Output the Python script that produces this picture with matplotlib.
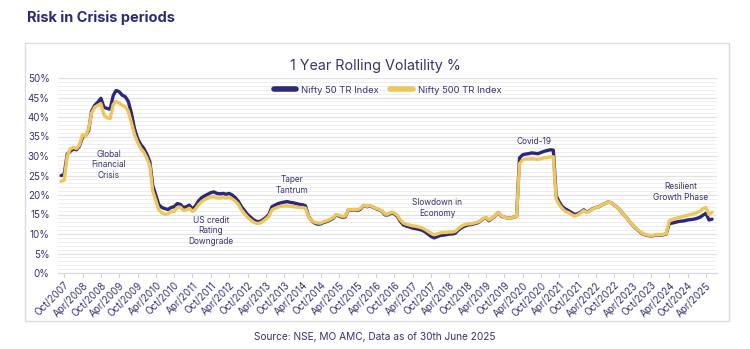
import numpy as np
import pandas as pd
import matplotlib
matplotlib.use('Agg')
import matplotlib.pyplot as plt
from matplotlib.patches import Rectangle
from matplotlib.ticker import MultipleLocator, FuncFormatter

plt.rcParams['font.family'] = ['Inter', 'DejaVu Sans']

# monthly points, Sep 2007 .. Jun 2025
months = pd.date_range('2007-09-01', '2025-06-01', freq='MS')

nifty50 = [
    25.0, 25.2, 30.5, 31.2,                                                   # 2007
    31.8, 31.6, 32.5, 34.8, 35.2, 36.5, 41.5, 43.0, 43.8, 44.8, 42.5, 42.2,   # 2008
    42.0, 45.5, 46.8, 46.5, 45.6, 45.2, 44.0, 41.0, 37.0, 34.5, 33.0, 32.0,   # 2009
    30.5, 28.5, 22.5, 20.0, 17.5, 16.8, 16.5, 16.3, 16.8, 17.0, 17.8, 17.6,   # 2010
    16.8, 17.0, 17.4, 16.4, 17.2, 18.5, 19.3, 19.8, 20.2, 20.6, 20.8, 20.4,   # 2011
    20.3, 20.4, 20.2, 20.4, 20.0, 19.3, 18.4, 17.0, 16.0, 15.0, 14.3, 13.6,   # 2012
    13.2, 13.2, 13.6, 14.2, 15.0, 17.0, 17.4, 17.8, 18.0, 18.2, 18.3, 18.1,   # 2013
    18.0, 17.8, 17.6, 17.5, 17.2, 14.5, 13.4, 12.8, 12.5, 12.6, 13.0, 13.2,   # 2014
    13.6, 14.0, 14.9, 14.6, 14.3, 14.4, 16.2, 16.1, 16.2, 16.0, 16.4, 17.3,   # 2015
    17.0, 17.2, 16.9, 16.5, 16.2, 15.8, 14.9, 14.9, 15.4, 15.2, 14.5, 13.2,   # 2016
    12.3, 12.0, 11.8, 11.5, 11.4, 11.2, 11.0, 10.6, 10.0, 9.4, 9.0, 9.3,      # 2017
    9.6, 9.7, 9.8, 10.0, 10.0, 10.2, 11.0, 11.6, 12.0, 12.3, 12.4, 12.6,      # 2018
    12.8, 13.2, 13.8, 14.2, 13.4, 14.0, 14.6, 15.5, 14.6, 14.3, 14.1, 14.0,   # 2019
    14.3, 14.5, 29.5, 30.3, 30.5, 30.6, 30.8, 30.7, 30.6, 30.9, 31.2, 31.4,   # 2020
    31.6, 31.5, 19.8, 18.2, 17.0, 16.4, 16.0, 15.5, 15.0, 15.2, 15.6, 16.2,   # 2021
    15.6, 16.0, 16.5, 16.8, 17.0, 17.5, 17.8, 18.2, 18.0, 17.4, 16.8, 16.0,   # 2022
    15.0, 14.2, 13.2, 12.3, 11.5, 10.8, 10.2, 9.8, 9.6, 9.5, 9.6, 9.8,        # 2023
    9.7, 9.8, 10.0, 12.7, 12.8, 13.0, 13.2, 13.3, 13.4, 13.6, 13.7, 13.8,     # 2024
    14.0, 14.3, 14.8, 15.3, 13.6, 13.8,                                       # 2025
]

nifty500 = [
    23.5, 23.8, 30.0, 31.8,
    32.2, 31.9, 32.8, 35.5, 35.0, 37.0, 41.0, 42.5, 43.0, 43.4, 40.5, 39.8,
    39.6, 43.2, 44.0, 43.6, 43.0, 42.6, 41.5, 38.5, 35.5, 33.5, 32.0, 31.0,
    29.5, 27.5, 21.0, 18.6, 16.2, 15.4, 15.0, 15.2, 15.8, 15.8, 16.8, 16.9,
    16.0, 16.2, 16.6, 15.8, 16.4, 17.5, 18.3, 18.8, 19.2, 19.5, 19.5, 19.3,
    19.2, 19.4, 19.2, 19.4, 19.0, 18.4, 17.6, 16.2, 15.2, 14.3, 13.6, 13.0,
    12.7, 12.8, 13.2, 13.8, 14.5, 16.2, 16.6, 16.9, 17.1, 17.2, 17.2, 17.1,
    17.0, 16.9, 16.8, 16.8, 16.6, 14.4, 13.4, 13.0, 12.8, 12.8, 13.2, 13.4,
    13.8, 14.2, 15.0, 14.8, 14.5, 14.6, 16.3, 16.2, 16.3, 16.2, 16.6, 17.4,
    17.1, 17.3, 17.0, 16.6, 16.3, 15.9, 15.1, 15.1, 15.6, 15.4, 14.8, 13.6,
    12.8, 12.5, 12.3, 12.1, 12.0, 11.8, 11.6, 11.2, 10.7, 10.2, 9.8, 10.0,
    10.3, 10.4, 10.4, 10.5, 10.5, 10.7, 11.4, 12.0, 12.4, 12.6, 12.6, 12.8,
    13.0, 13.3, 13.9, 14.3, 13.6, 14.1, 14.7, 15.5, 14.7, 14.3, 14.1, 14.0,
    14.3, 14.5, 28.0, 29.0, 29.2, 29.2, 29.3, 29.2, 29.1, 29.3, 29.5, 29.6,
    29.8, 29.8, 19.0, 17.5, 16.5, 15.8, 15.5, 15.0, 14.6, 14.9, 15.4, 16.0,
    15.5, 15.9, 16.4, 16.8, 17.0, 17.5, 17.8, 18.2, 18.0, 17.4, 16.8, 16.0,
    15.0, 14.2, 13.2, 12.4, 11.6, 10.9, 10.3, 9.9, 9.7, 9.6, 9.7, 9.9,
    9.8, 9.9, 10.1, 13.4, 13.7, 14.0, 14.2, 14.4, 14.6, 14.8, 15.0, 15.2,
    15.5, 15.8, 16.5, 16.8, 15.0, 15.6,
]

tick_dates = pd.date_range('2007-10-01', '2025-04-01', freq='6MS')
tick_labels = [d.strftime('%b/%Y') for d in tick_dates]

events = ['Global\nFinancial\nCrisis', 'US credit\nRating\nDowngrade', 'Taper\nTantrum',
          'Slowdown in\nEconomy', 'Covid-19', 'Resilient\nGrowth Phase']
event_dates = pd.to_datetime(['2008-12-20', '2011-10-01', '2013-12-20',
                              '2017-12-01', '2020-07-25', '2024-07-20'])
event_y = [27.7, 10.8, 22.6, 16.7, 33.7, 20.8]

navy = '#2c2a78'
gold = '#efc65c'
txt = '#36346e'

fig = plt.figure(figsize=(7.5, 3.49), dpi=100)
fig.patch.set_facecolor('white')

# card border, behind the axes
fig.patches.append(Rectangle((25/750, 1-321/349), 704/750, 278/349, transform=fig.transFigure,
                             facecolor='white', edgecolor='#dcdcdc', lw=1.0, zorder=-5))

fig.text(27/750, 1-18/349, 'Risk in Crisis periods', fontsize=10.5, fontweight='bold',
         color=navy, va='center', ha='left')
fig.text(375/750, 1-66/349, '1 Year Rolling Volatility %', fontsize=10.3, color=txt,
         va='center', ha='center')
fig.text(375/750, 1-337/349, 'Source: NSE, MO AMC, Data as of 30th June 2025', fontsize=7.3,
         color=txt, va='center', ha='center')

ax = fig.add_axes([58/750, 1-273/349, 659/750, 195/349])
ax.set_facecolor('none')
ax.plot(months, nifty50, color=navy, lw=2.4, label='Nifty 50 TR Index', solid_capstyle='round')
ax.plot(months, nifty500, color=gold, lw=2.4, label='Nifty 500 TR Index', solid_capstyle='round')

ax.set_ylim(0, 50)
ax.set_xlim(pd.Timestamp('2007-08-01'), pd.Timestamp('2025-07-20'))
ax.yaxis.set_major_locator(MultipleLocator(5))
ax.yaxis.set_minor_locator(MultipleLocator(1))
ax.yaxis.set_major_formatter(FuncFormatter(lambda v, p: '%d%%' % v))
ax.grid(axis='y', which='major', color='#e2e2e2', lw=0.9)
ax.grid(axis='y', which='minor', color='#eeeeee', lw=0.7)
ax.set_axisbelow(True)

ax.set_xticks(tick_dates)
ax.set_xticklabels(tick_labels, rotation=45, ha='right', rotation_mode='anchor',
                   fontsize=7, color=txt)
ax.tick_params(axis='x', length=3, color='#cfcfcf', pad=2)
ax.tick_params(axis='y', which='both', length=0, labelsize=7, labelcolor=txt, pad=6)
for s in ['top', 'right', 'left']:
    ax.spines[s].set_visible(False)
ax.spines['bottom'].set_color('#d8d8d8')

for t, d, y in zip(events, event_dates, event_y):
    ax.text(d, y, t, fontsize=6, color=txt, ha='center', va='center', linespacing=1.2)

leg = ax.legend(loc='center', bbox_to_anchor=(0.5, 0.938), ncol=2, frameon=False,
                fontsize=6.8, handlelength=2.4, columnspacing=1.2, handletextpad=0.5)
for h in leg.get_lines():
    h.set_linewidth(4)
for t in leg.get_texts():
    t.set_color(txt)

fig.savefig('out.png', dpi=100)
